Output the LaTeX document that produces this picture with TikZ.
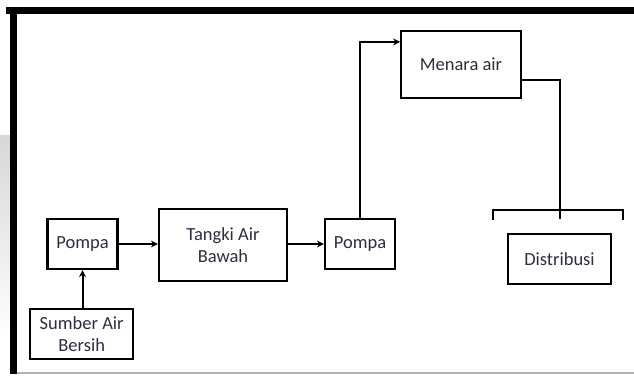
\documentclass[tikz,border=0pt]{standalone}
\usepackage{fontspec}
\setmainfont{Carlito}
\usetikzlibrary{arrows.meta,calc,positioning}
\definecolor{txtgrey}{RGB}{45,45,62}
\definecolor{shadowgrey}{RGB}{215,215,215}

\begin{document}
\begin{tikzpicture}[x=1pt,y=-1pt,>={Stealth[length=7pt,width=7pt]},
    font=\fontsize{18.5}{22}\selectfont,
    every node/.style={align=center,text=txtgrey},
    box/.style={draw,line width=2.2pt,inner sep=0pt},
    flow/.style={line width=2pt}]
    \useasboundingbox (0,0) rectangle (634,376);
    % frame
    \shade[top color=shadowgrey,bottom color=white] (0,135) rectangle (10,340);
    \fill[black] (6,7) rectangle (634,14);
    \fill[black] (10,7) rectangle (17,374);
    \fill[gray!60] (17,372) rectangle (634,374);
    % boxes
    \node[box,minimum width=70pt,minimum height=50pt] (pompaA) at (82.5,244) {Pompa};
    \node[box,minimum width=103pt,minimum height=50pt] (sumber) at (81.7,334) {Sumber Air\\Bersih};
    \node[box,minimum width=128pt,minimum height=72pt] (tangki) at (223,245) {Tangki Air\\Bawah};
    \node[box,minimum width=70pt,minimum height=50pt] (pompaB) at (360,244) {Pompa};
    \node[box,minimum width=119.5pt,minimum height=67pt] (menara) at (461,64.5) {Menara air};
    \node[box,minimum width=103pt,minimum height=50pt] (distribusi) at (559.5,259) {Distribusi};
    % connectors
    \draw[->,flow] (sumber.north-|pompaA) -- (pompaA.south);
    \draw[->,flow] (pompaA.east) -- (tangki.west|-pompaA.east);
    \draw[->,flow] (tangki.east|-pompaB.west) -- (pompaB.west);
    \coordinate (up) at ($(menara.north west)+(0,12)$);
    \draw[->,flow] (pompaB.north) |- (up);
    \coordinate (out) at ($(menara.north east)+(0,50)$);
    \coordinate (split) at (distribusi.center|-0,219);
    \draw[flow] (out) -| (split);
    % bracket
    \coordinate (brL) at (493,220);
    \coordinate (brR) at (623,220);
    \draw[flow] (brL) -- ++(0,-10) -| (brR);
  \end{tikzpicture}
\end{document}
